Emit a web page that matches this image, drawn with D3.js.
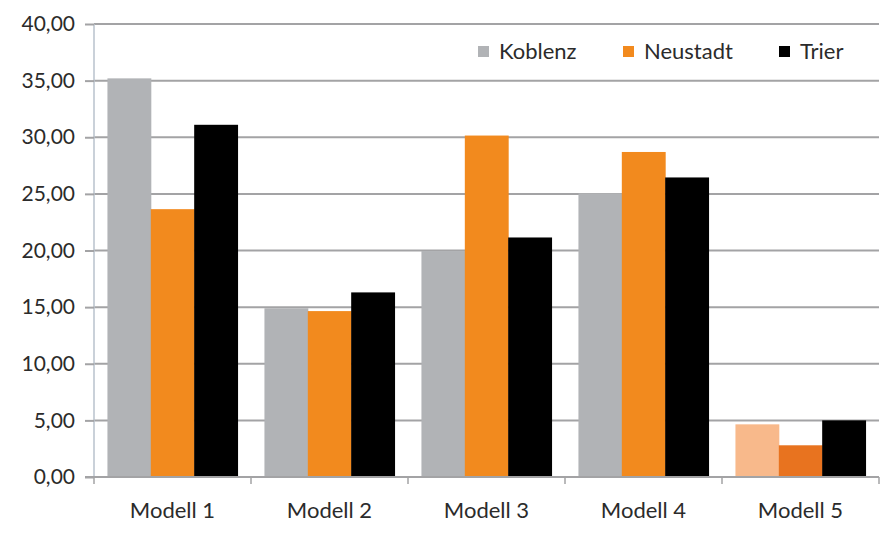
<!DOCTYPE html>
<html><head><meta charset="utf-8">
<script src="https://cdn.jsdelivr.net/npm/d3@7"></script>
<style>
html,body{margin:0;padding:0;background:#fff;}
svg{display:block;font-family:Lato,"Open Sans",sans-serif;}
</style></head>
<body><svg id="c" width="893" height="533"></svg>
<script>
const categories = ["Modell 1","Modell 2","Modell 3","Modell 4","Modell 5"];
const seriesNames = ["Koblenz","Neustadt","Trier"];
const koblenz  = [35.2, 14.9, 19.95, 25.05, 4.65];
const neustadt = [23.65, 14.65, 30.15, 28.7, 2.8];
const trier    = [31.1, 16.3, 21.15, 26.45, 5.0];
const yTicks = [0,5,10,15,20,25,30,35,40];
const seriesColors = ["#b1b3b6","#f28a1e","#000000"];
const modell5Colors = ["#f8b98b","#e8731f","#000000"];

const values = [koblenz, neustadt, trier];
const svg = d3.select("#c");
const M = {l:94, r:879, t:24, b:477};

const loc = d3.formatLocale({decimal:",", thousands:".", grouping:[3], currency:["","€"]});
const fmt = loc.format(".2f");

const x = d3.scaleBand().domain(categories).range([M.l, M.r]).padding(0);
const xs = d3.scaleBand().domain(seriesNames).range([0, x.bandwidth()]).paddingInner(0).paddingOuter(0.31);
const y = d3.scaleLinear().domain([0,40]).range([M.b, M.t]);

// gridlines
svg.append("g").selectAll("line").data(yTicks.filter(d=>d>0)).join("line")
  .attr("x1", M.l).attr("x2", M.r)
  .attr("y1", d=>y(d)).attr("y2", d=>y(d))
  .attr("stroke","#a3a3a5").attr("stroke-width",2);

// bars
const rows = [];
categories.forEach((c,i)=>seriesNames.forEach((s,j)=>rows.push({c,s,v:values[j][i],
  color: c==="Modell 5" ? modell5Colors[j] : seriesColors[j]})));
svg.append("g").selectAll("rect").data(rows).join("rect")
  .attr("x", d=>x(d.c)+xs(d.s))
  .attr("width", xs.bandwidth()+0.5)
  .attr("y", d=>y(d.v))
  .attr("height", d=>y(0)-y(d.v))
  .attr("fill", d=>d.color);

// y axis
const yAxis = d3.axisLeft(y).tickValues(yTicks).tickFormat(d=>fmt(d)).tickSize(9).tickPadding(10);
const gy = svg.append("g").attr("transform",`translate(${M.l},0)`).call(yAxis);
gy.select(".domain").attr("stroke","#b8c2cc").attr("stroke-width",1.5).attr("d",`M0,${M.t}V${M.b}`);
gy.selectAll(".tick line").attr("stroke","#a3a3a5").attr("stroke-width",2);
gy.selectAll("text").attr("font-size",21).attr("fill","#2b2b2b").attr("font-family","Lato,sans-serif");

// x axis
const gx = svg.append("g").attr("transform",`translate(0,${M.b})`);
gx.append("line").attr("x1",M.l-9).attr("x2",M.r).attr("stroke","#a3a3a5").attr("stroke-width",2);
const bounds = categories.map(c=>x(c)).concat([M.r]);
gx.selectAll(".xt").data(bounds).join("line").attr("class","xt")
  .attr("x1",d=>d).attr("x2",d=>d).attr("y1",0).attr("y2",7)
  .attr("stroke","#a3a3a5").attr("stroke-width",1.5);
gx.selectAll("text").data(categories).join("text")
  .attr("x", d=>x(d)+x.bandwidth()/2).attr("y", 41)
  .attr("text-anchor","middle").attr("font-size",22).attr("fill","#2b2b2b").text(d=>d);

// legend
const legX = [478, 623, 779];
const lg = svg.append("g");
seriesNames.forEach((s,j)=>{
  lg.append("rect").attr("x",legX[j]).attr("y",46).attr("width",11).attr("height",11).attr("fill",seriesColors[j]);
  lg.append("text").attr("x",legX[j]+21).attr("y",59).attr("font-size",22).attr("fill","#2b2b2b").text(s);
});
</script></body></html>
